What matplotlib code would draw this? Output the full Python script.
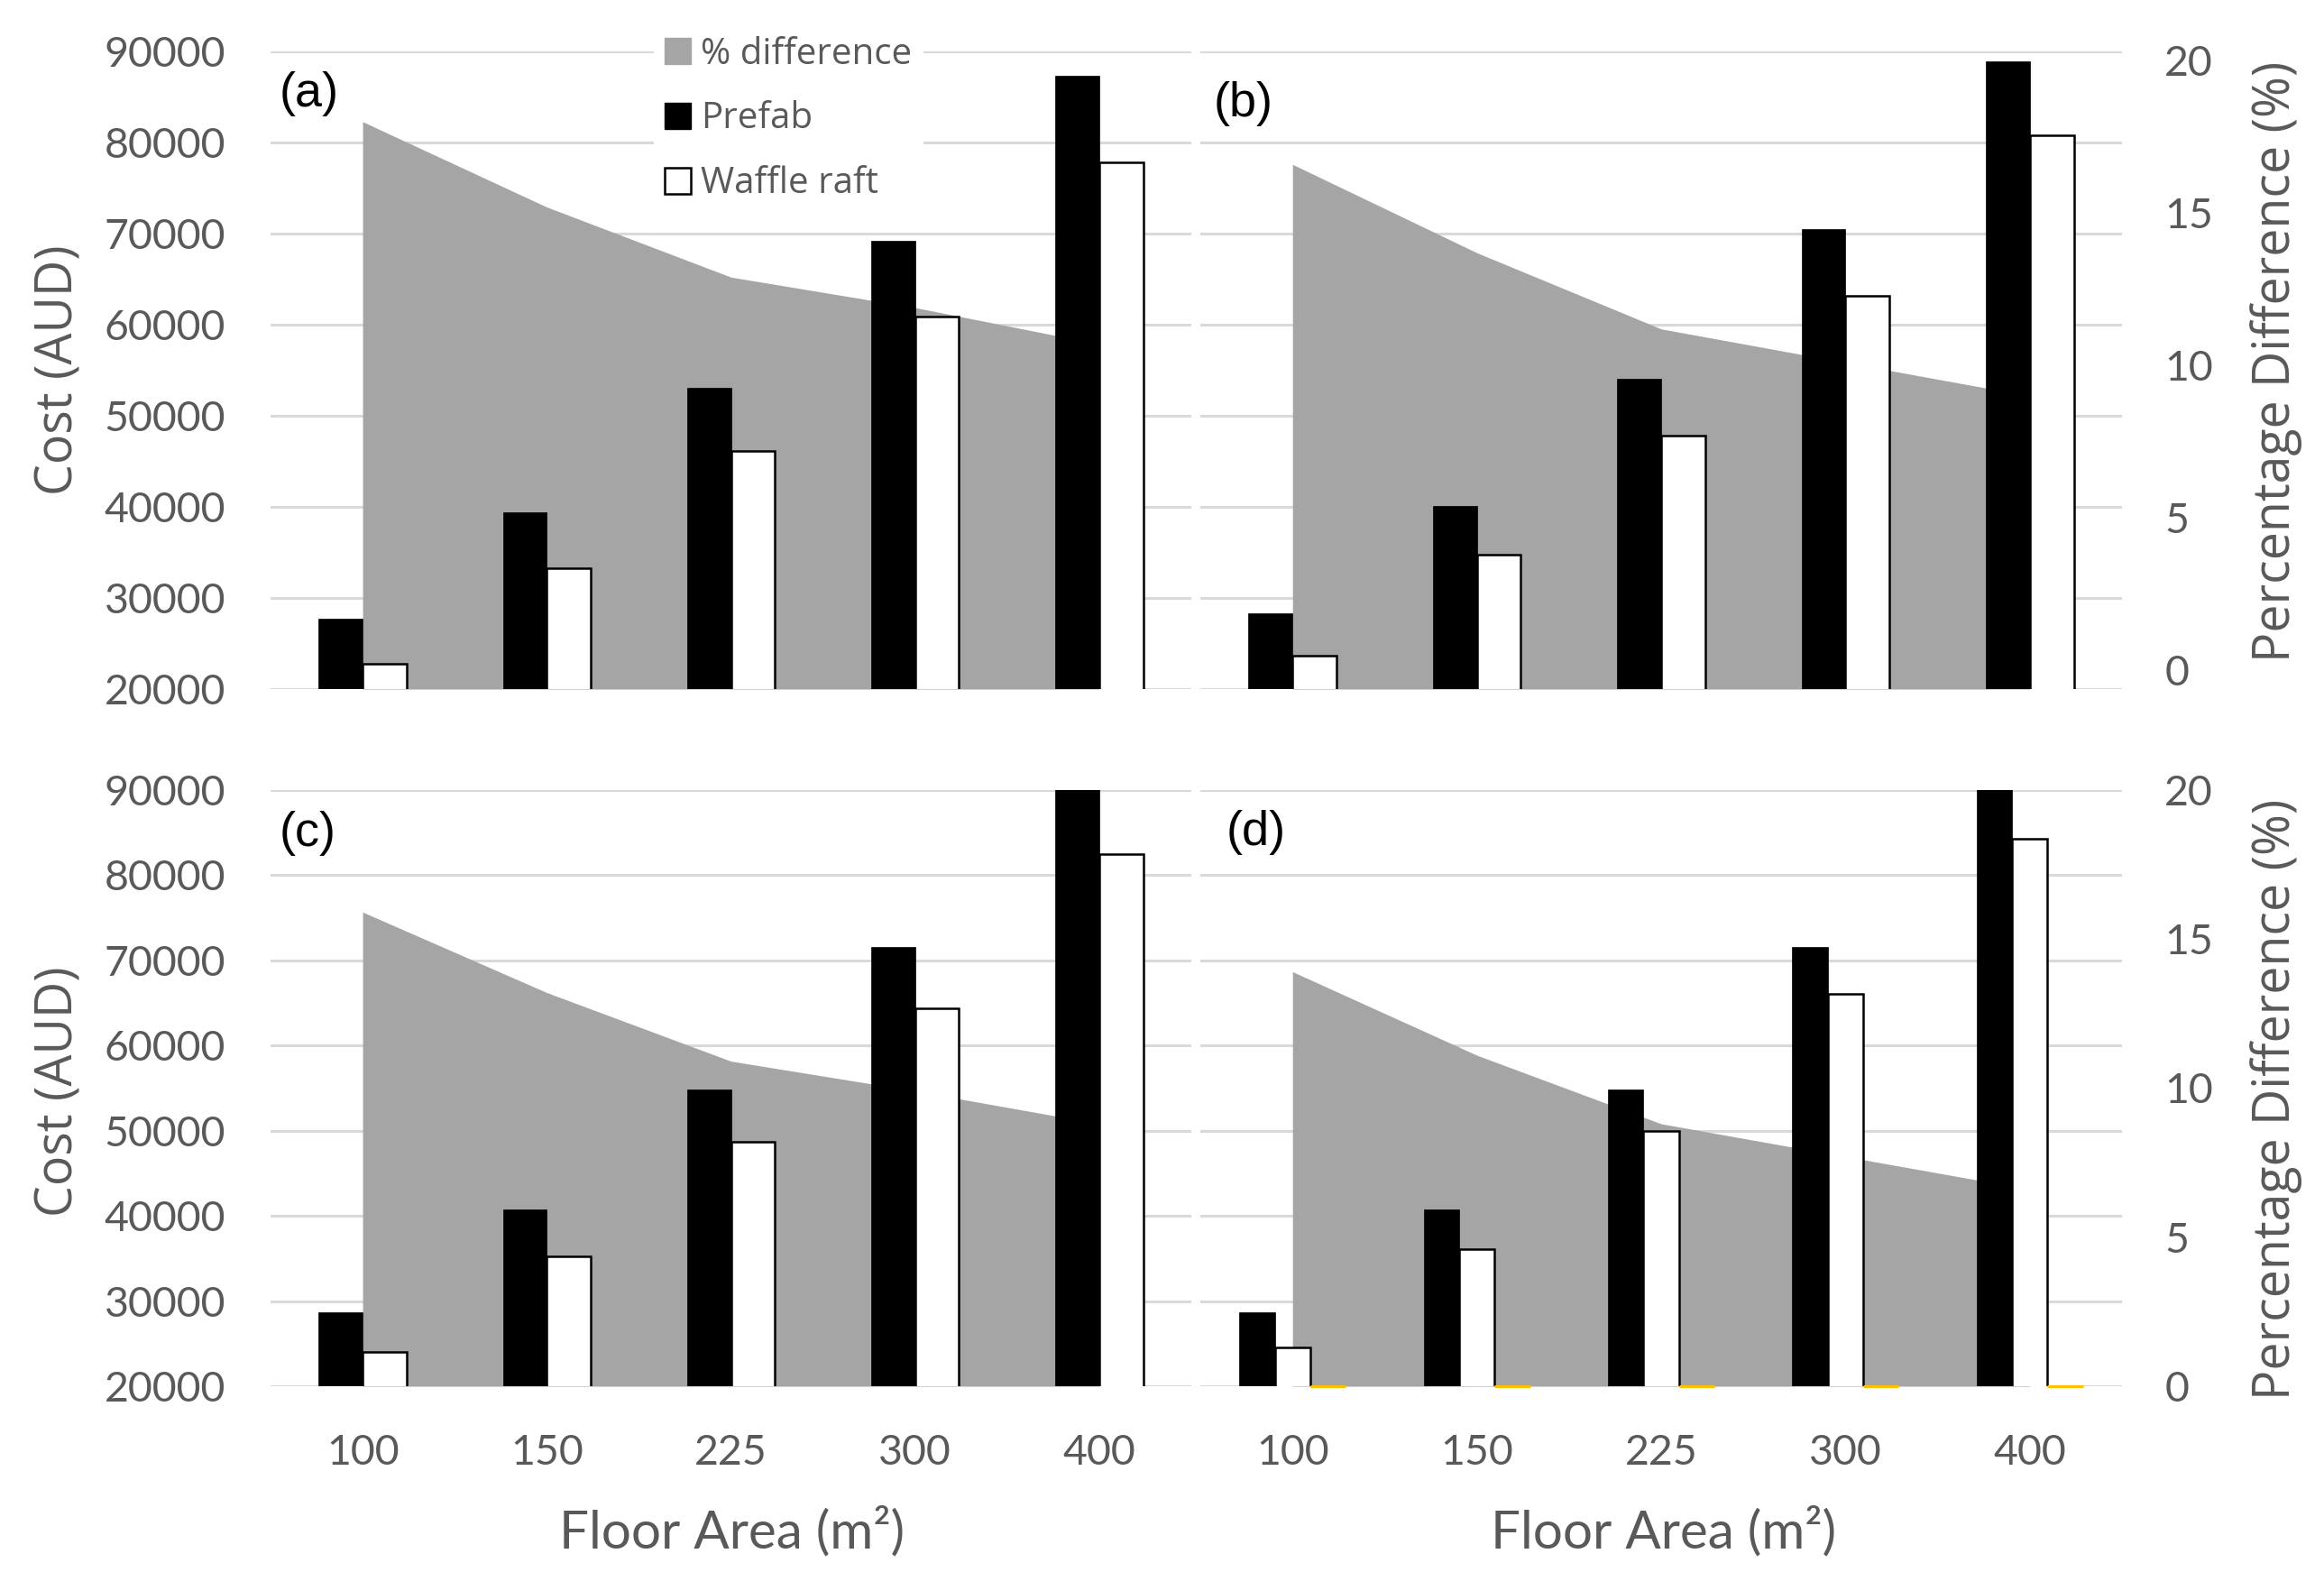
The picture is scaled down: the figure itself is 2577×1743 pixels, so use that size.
import matplotlib
matplotlib.use('Agg')
import matplotlib.pyplot as plt
from matplotlib.patches import Patch
import numpy as np

# ---------------- data ----------------
categories = ['100', '150', '225', '300', '400']

prefab_a = [27700, 39400, 53000, 69200, 87300]
waffle_a = [22800, 33300, 46100, 60900, 77800]
pct_a = [18.0, 15.2, 12.9, 11.9, 10.7]

prefab_b = [28300, 40100, 54000, 70500, 88900]
waffle_b = [23700, 34700, 47800, 63100, 80700]
pct_b = [16.6, 13.7, 11.2, 10.1, 9.0]

prefab_c = [28700, 40700, 54800, 71600, 90500]
waffle_c = [24000, 35200, 48700, 64400, 82400]
pct_c = [15.9, 13.2, 10.9, 9.9, 8.8]

prefab_d = [28700, 40700, 54800, 71600, 90500]
waffle_d = [24500, 36100, 50000, 66000, 84300]
extra_d = [0, 0, 0, 0, 0]
pct_d = [13.9, 11.1, 8.8, 7.7, 6.6]

cost_ticks = [20000, 30000, 40000, 50000, 60000, 70000, 80000, 90000]
pct_ticks = [0, 5, 10, 15, 20]

legend_labels = ['% difference', 'Prefab', 'Waffle raft']
panel_labels = ['(a)', '(b)', '(c)', '(d)']

# ---------------- style ----------------
W, H = 2577, 1743
TXT = '#595959'
GRID = '#D9D9D9'
AREA = '#A5A5A5'
TICKFONT = 'Lato'
TITLEFONT = 'Open Sans'

fig = plt.figure(figsize=(W / 100, H / 100), dpi=100)


def rect(x0, y0, x1, y1):
    return [x0 / W, 1 - y1 / H, (x1 - x0) / W, (y1 - y0) / H]


cols = [(300, 1321), (1331, 2353)]
rows = [(56.5, 764), (875.7, 1537)]
pct_lims = [(-0.615, 20.32), (0, 20)]

panels = [
    (0, 0, prefab_a, waffle_a, None, pct_a),
    (0, 1, prefab_b, waffle_b, None, pct_b),
    (1, 0, prefab_c, waffle_c, None, pct_c),
    (1, 1, prefab_d, waffle_d, extra_d, pct_d),
]

x = np.arange(len(categories))

for r, c, pre, waf, extra, pct in panels:
    x0, x1 = cols[c]
    y0, y1 = rows[r]
    ax = fig.add_axes(rect(x0, y0, x1, y1))
    ax2 = ax.twinx()
    ax.set_zorder(2)
    ax.patch.set_visible(False)
    ax2.set_zorder(1)

    ax.set_xlim(-0.5, len(categories) - 0.5)
    ax.set_ylim(cost_ticks[0], cost_ticks[-1])
    lo, hi = pct_lims[r]
    ax2.set_ylim(lo, hi)

    ax2.set_yticks(pct_ticks)
    for t in cost_ticks:
        ax.axhline(t, color=GRID, lw=2.2, zorder=0.5)
    ax.set_yticks(cost_ticks)

    # area (secondary axis) drawn on ax but in ax2 coordinates
    ax.fill_between(x, pct, lo, color=AREA, lw=0, zorder=1,
                    transform=ax2.transData)

    n = 2 if extra is None else 3
    w = 1.0 / (n + 2.19)
    if n == 2:
        offs = [-w / 2, w / 2]
    else:
        offs = [-w, 0, w]
    ax.bar(x + offs[0], pre, width=w, color='black', edgecolor='black',
           lw=0.5, zorder=3)
    ax.bar(x + offs[1], waf, width=w, color='white', edgecolor='black',
           lw=1.8, zorder=3)
    if extra is not None:
        ax.bar(x + offs[2], extra, width=w, bottom=cost_ticks[0],
               color='#FFC000', edgecolor='#FFC000', lw=2.2, zorder=3,
               clip_on=False)

    for a in (ax, ax2):
        for s in a.spines.values():
            s.set_visible(False)
        a.tick_params(length=0)

    ax.tick_params(axis='y', labelsize=33.5, labelcolor=TXT, pad=36)
    if c == 1:
        ax.tick_params(axis='y', labelleft=False)
        ax2.tick_params(axis='y', labelsize=33.5, labelcolor=TXT, pad=34,
                        labelright=True)
    else:
        ax2.tick_params(axis='y', labelright=False)
    for lab in ax.get_yticklabels() + ax2.get_yticklabels():
        lab.set_fontfamily(TICKFONT)

    ax.set_xticks(x)
    if r == 1:
        ax.set_xticklabels(categories, fontsize=33.5, color=TXT,
                           fontfamily=TICKFONT)
        ax.tick_params(axis='x', pad=38)
    else:
        ax.set_xticklabels([])

# panel labels
for lab, (px, py) in zip(panel_labels, [(310, 104), (1346, 115), (310, 924), (1360, 923)]):
    fig.text(px / W, 1 - py / H, lab, fontsize=39, family='Liberation Sans',
             color='black', ha='left', va='center')

# axis titles
for cy in (410, 1210):
    fig.text(66 / W, 1 - cy / H, 'Cost (AUD)', rotation=90, fontsize=40,
             family=TITLEFONT, color=TXT, ha='center', va='center')
for cy in (401, 1219):
    fig.text(2524 / W, 1 - cy / H, 'Percentage Difference (%)', rotation=90,
             fontsize=40, family=TITLEFONT, color=TXT, ha='center', va='center')
for cx in (812, 1845):
    fig.text(cx / W, 1 - 1698 / H, 'Floor Area (m²)', fontsize=42,
             family=TICKFONT, color=TXT, ha='center', va='center')

# legend
handles = [Patch(facecolor=AREA, edgecolor=AREA),
           Patch(facecolor='black', edgecolor='black'),
           Patch(facecolor='white', edgecolor='black', lw=1.8)]
leg = fig.legend(handles, legend_labels, loc='upper left',
                 bbox_to_anchor=(725 / W, 1 - 28 / H),
                 frameon=True, facecolor='white', edgecolor='none',
                 framealpha=1, fancybox=False,
                 prop={'family': TITLEFONT, 'size': 29},
                 labelcolor=TXT, handlelength=0.72, handleheight=0.72,
                 handletextpad=0.28, labelspacing=0.78, borderpad=0.3,
                 borderaxespad=0)
leg.set_zorder(10)

fig.savefig('out.png', dpi=100)
